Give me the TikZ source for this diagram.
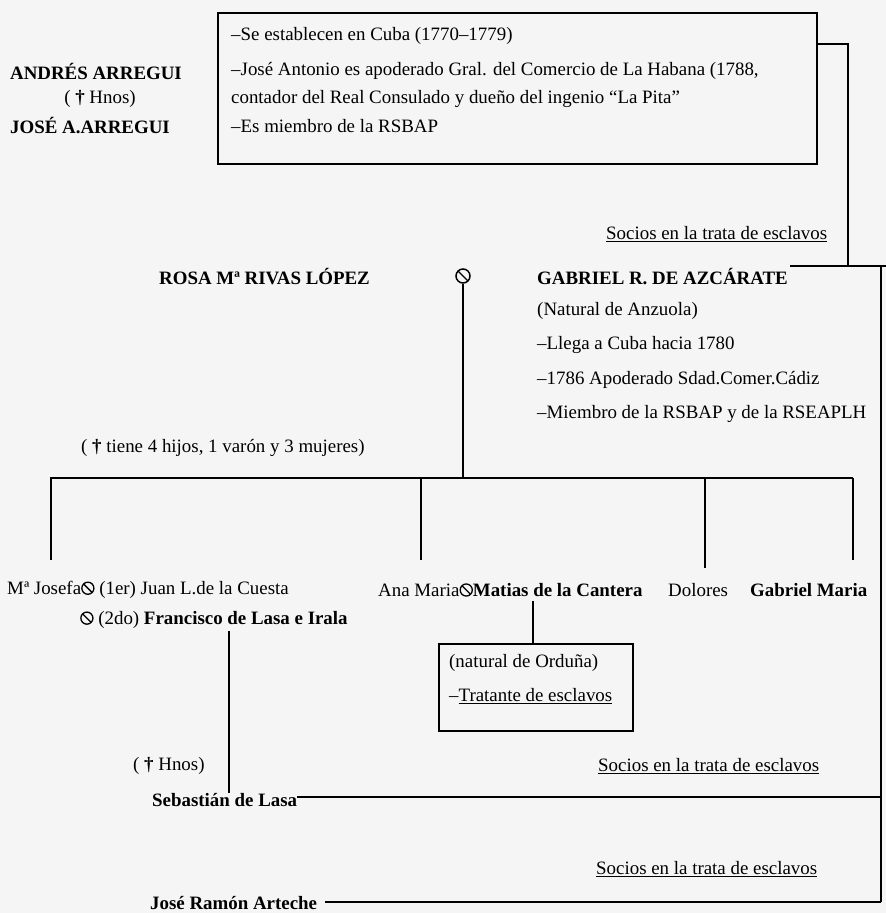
\documentclass[tikz,border=0pt]{standalone}
\usepackage{fontspec}
\setmainfont{Liberation Serif}
\newcommand\fs{\fontsize{18.9}{23}\selectfont}
\newcommand\msym{\tikz[baseline=0pt,x=1cm,y=1cm]{\draw[line width=1.3pt] (0,0.34em) circle (0.32em); \draw[line width=1.3pt] (-0.22em,0.56em) -- (0.22em,0.12em);}}
\begin{document}
\begin{tikzpicture}[x=1pt,y=-1pt,
  t/.style={font=\fs, inner sep=0pt, anchor=west},
  b/.style={font=\fs\bfseries, inner sep=0pt, anchor=west},
  tc/.style={font=\fs, inner sep=0pt},
  bc/.style={font=\fs\bfseries, inner sep=0pt},
  ln/.style={line width=1.3pt},
  boxst/.style={draw, line width=1.5pt, inner sep=0pt},
  marrst/.style={circle, draw, line width=1.5pt, minimum size=14pt, inner sep=0pt,
    path picture={\draw[line width=1.4pt] (path picture bounding box.north west) -- (path picture bounding box.south east);}}]
\useasboundingbox (0,0) rectangle (886,913);
\fill[white!96!black] (0,0) rectangle (886,913);

% top block
\node[bc] (andres) at (96,71) {ANDRÉS ARREGUI};
\node[tc] (hnos1) at (100,99) {( \textbf{†} Hnos)};
\node[bc] (josea) at (90,126) {JOSÉ A.ARREGUI};
\node[boxst, anchor=north west, minimum width=599pt, minimum height=151pt] (box1) at (217,12) {};
\node[t] (l1) at (231,36) {–Se establecen en Cuba (1770–1779)};
\node[t] (l2) at (231,71) {–José Antonio es apoderado Gral. del Comercio de La Habana (1788,};
\node[t] (l3) at (231,99) {contador del Real Consulado y dueño del ingenio “La Pita”};
\node[t] (l4) at (231,126) {–Es miembro de la RSBAP};

\node[t] (soc1) at (606,234) {\underline{Socios en la trata de esclavos}};

% parents
\node[b] (rosa) at (159,277) {ROSA Mª RIVAS LÓPEZ};
\node[marrst] (marr) at (463,276) {};
\node[b] (gab) at (537,277) {GABRIEL R. DE AZCÁRATE};
\node[t] (g1) at (537,311) {(Natural de Anzuola)};
\node[t] (g2) at (537,345) {–Llega a Cuba hacia 1780};
\node[t] (g3) at (537,380) {–1786 Apoderado Sdad.Comer.Cádiz};
\node[t] (g4) at (537,414) {–Miembro de la RSBAP y de la RSEAPLH};
\node[t] (hijos) at (81,448) {( \textbf{†} tiene 4 hijos, 1 varón y 3 mujeres)};

% children
\node[t] (josefa) at (7,590) {Mª Josefa\msym\ (1er) Juan L.de la Cuesta};
\node[t] (fran) at (80,620) {\msym\ (2do) \textbf{Francisco de Lasa e Irala}};
\node[t] (ana) at (378,590) {Ana Maria\msym\textbf{Matias de la Cantera}};
\node[t] (dol) at (668,590) {Dolores};
\node[b] (gmaria) at (750,590) {Gabriel Maria};

\node[boxst, anchor=north west, minimum width=194pt, minimum height=87pt] (box2) at (438,643) {};
\node[t] (o1) at (449,663) {(natural de Orduña)};
\node[t] (o2) at (449,696) {–\underline{Tratante de esclavos}};

\node[t] (hnos2) at (133,766) {( \textbf{†} Hnos)};
\node[t] (soc2) at (598,766) {\underline{Socios en la trata de esclavos}};
\node[b] (seb) at (152,800) {Sebastián de Lasa};
\node[t] (soc3) at (596,869) {\underline{Socios en la trata de esclavos}};
\node[b] (jra) at (150,903) {José Ramón Arteche};

% coordinates
\coordinate (br1) at (848,44);
\coordinate (gl) at (790,266);
\coordinate (gR) at (881,266);
\coordinate (edge) at (886,266);
\coordinate (hl) at (50,478);
\coordinate (hr) at (853,478);
\coordinate (c1) at (51,560);
\coordinate (c2) at (421,560);
\coordinate (c3) at (705,568);
\coordinate (c4) at (853,560);
\coordinate (fs) at (229,631);
\coordinate (ms) at (533,601);
\coordinate (sebR) at (881,797);
\coordinate (jraR) at (881,902);

% connectors
\draw[ln] (box1.east |- br1) -- (br1) -- (br1 |- gl);
\draw[ln] (gl) -- (edge);
\draw[ln] (gR) -- (jraR);
\draw[ln] (marr.south) -- (marr.south |- hl);
\draw[ln] (hl) -- (hr);
\draw[ln] (c1 |- hl) -- (c1);
\draw[ln] (c2 |- hl) -- (c2);
\draw[ln] (c3 |- hl) -- (c3);
\draw[ln] (c4 |- hl) -- (c4);
\draw[ln] (fs) -- (fs |- seb.north);
\draw[ln] (ms) -- (ms |- box2.north);
\draw[ln] (seb.east |- sebR) -- (sebR);
\draw[ln] ([xshift=8pt]jra.east |- jraR) -- (jraR);
\end{tikzpicture}
\end{document}
